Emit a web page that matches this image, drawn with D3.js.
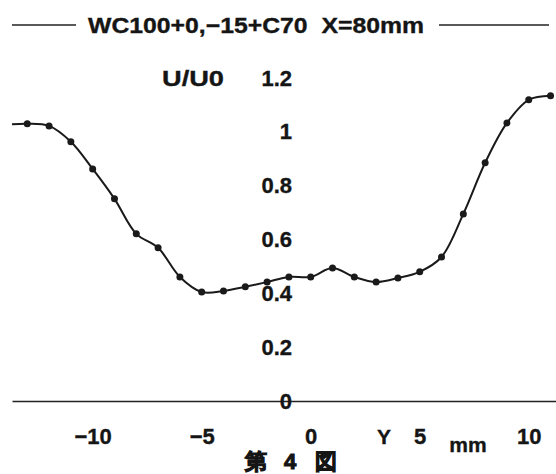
<!DOCTYPE html>
<html>
<head>
<meta charset="utf-8">
<script src="https://cdn.jsdelivr.net/npm/d3@7"></script>
<style>
  body { margin: 0; background: #fff; }
  text { font-family: "Liberation Sans", Arial, sans-serif; font-weight: bold; fill: #151515; stroke: #151515; stroke-width: 0.35px; }
</style>
</head>
<body>
<script>
// measured profile, U/U0 against Y (mm)
const yPositions = [-14, -13, -12, -11, -10, -9, -8, -7, -6, -5, -4, -3, -2, -1, 0, 1, 2, 3, 4, 5, 6, 7, 8, 9, 10, 11];
const uRatio = [1.026, 1.03, 1.022, 0.963, 0.862, 0.751, 0.621, 0.569, 0.461, 0.405, 0.409, 0.424, 0.442, 0.461, 0.461, 0.494, 0.461, 0.442, 0.457, 0.48, 0.535, 0.695, 0.885, 1.033, 1.119, 1.134];
const markerFrom = -13; // first point drawn with a dot (the one before it runs off the frame)

const xTicks = [-10, -5, 0, 5, 10];
const yTicks = [0, 0.2, 0.4, 0.6, 0.8, 1, 1.2];
const yTickLabels = ["0", "0.2", "0.4", "0.6", "0.8", "1", "1.2"];

const title = "WC100+0,\u221215+C70  X=80mm";
const caption = ["第", "4", "図"];

function initChart() {
  var width = 556;
  var height = 474;

  const svg = d3
    .select("body")
    .append("svg")
    .attr("width", width)
    .attr("height", height);

  const x = d3.scaleLinear().domain([-13.7, 11.25]).range([12, 556]);
  const y = d3.scaleLinear().domain([0, 1.2]).range([401, 78]);

  return { svg, x, y };
}

function styleLabels(sel, size) {
  sel.attr("font-size", size)
    .attr("font-family", "Liberation Sans")
    .attr("font-weight", "bold")
    .attr("fill", "#151515");
}

function drawFrame(svg, x, y) {
  // title with rules either side
  svg.append("line")
    .attr("x1", 12).attr("x2", 76).attr("y1", 25).attr("y2", 25)
    .attr("stroke", "#222").attr("stroke-width", 1.5);
  svg.append("line")
    .attr("x1", 439).attr("x2", 549).attr("y1", 25).attr("y2", 25)
    .attr("stroke", "#222").attr("stroke-width", 1.5);
  svg.append("text")
    .attr("x", 88).attr("y", 33)
    .attr("font-size", 22)
    .attr("textLength", 336)
    .attr("lengthAdjust", "spacingAndGlyphs")
    .style("white-space", "pre")
    .text(title);

  // x axis: bare line with labels underneath
  const xAxis = d3.axisBottom(x)
    .tickValues(xTicks)
    .tickFormat(d3.format("d"))
    .tickSize(0)
    .tickSizeOuter(0)
    .tickPadding(27);
  const gx = svg.append("g")
    .attr("transform", "translate(0," + y(0) + ")")
    .call(xAxis);
  gx.select(".domain").attr("stroke", "#222").attr("stroke-width", 1.7);
  styleLabels(gx.selectAll("text"), 22);

  // y labels sit in the middle of the plot, no axis line
  const yAxis = d3.axisLeft(y)
    .tickValues(yTicks)
    .tickFormat((d, i) => yTickLabels[i])
    .tickSize(0)
    .tickPadding(0);
  const gy = svg.append("g")
    .attr("transform", "translate(292,0)")
    .call(yAxis);
  gy.select(".domain").remove();
  styleLabels(gy.selectAll("text"), 22);

  svg.append("text")
    .attr("x", 162).attr("y", 86)
    .attr("font-size", 22)
    .attr("textLength", 62)
    .attr("lengthAdjust", "spacingAndGlyphs")
    .text("U/U0");

  svg.append("text")
    .attr("x", 384).attr("y", 444)
    .attr("font-size", 21)
    .attr("text-anchor", "middle")
    .text("Y");
  svg.append("text")
    .attr("x", 468).attr("y", 452)
    .attr("font-size", 21)
    .attr("text-anchor", "middle")
    .text("mm");

  const capX = [256, 290, 326];
  svg.selectAll(".cap")
    .data(caption)
    .enter()
    .append("text")
    .attr("class", "cap")
    .attr("x", (d, i) => capX[i])
    .attr("y", 469)
    .attr("font-size", 22)
    .attr("text-anchor", "middle")
    .attr("font-family", "Noto Sans CJK JP")
    .attr("font-weight", 900)
    .style("stroke-width", "1.1px")
    .text(d => d);
}

function drawProfile(svg, x, y) {
  const pts = yPositions.map((v, i) => ({ v: v, u: uRatio[i] }));

  svg.append("clipPath")
    .attr("id", "plotclip")
    .append("rect")
    .attr("x", 12).attr("y", 0).attr("width", 544).attr("height", 474);

  const line = d3.line()
    .x(d => x(d.v))
    .y(d => y(d.u))
    .curve(d3.curveCatmullRom.alpha(0.5));

  svg.append("path")
    .datum(pts)
    .attr("clip-path", "url(#plotclip)")
    .attr("fill", "none")
    .attr("stroke", "#1a1a1a")
    .attr("stroke-width", 2)
    .attr("d", line);

  svg.append("g")
    .selectAll("circle")
    .data(pts.filter(d => d.v >= markerFrom))
    .enter()
    .append("circle")
    .attr("cx", d => x(d.v))
    .attr("cy", d => y(d.u))
    .attr("r", 3.5)
    .attr("fill", "#1a1a1a");
}

const chart = initChart();
drawFrame(chart.svg, chart.x, chart.y);
drawProfile(chart.svg, chart.x, chart.y);
</script>
</body>
</html>
